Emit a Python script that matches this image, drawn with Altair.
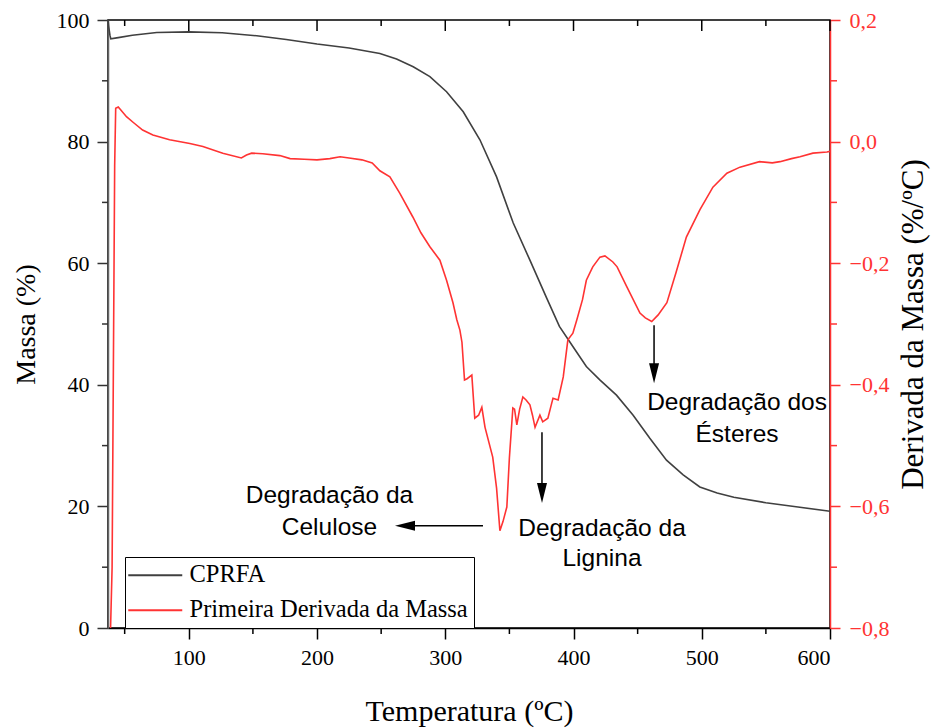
import altair as alt
import pandas as pd

# Thermogravimetric curve: temperature (ºC) and residual mass (%)
temp_mass = [37.0, 37.5, 38.5, 39.2, 45, 56, 75, 100, 126, 153, 176, 200, 225,
             249, 262, 275, 288, 301, 314, 327, 340, 353, 366, 379, 389, 399.5,
             410, 420.5, 433.5, 446.5, 459.5, 472.5, 485.5, 498.5, 512, 525,
             550, 575, 600]
mass = [100.0, 99.0, 97.5, 96.9, 97.1, 97.5, 97.95, 98.05, 97.9, 97.4, 96.8,
        96.05, 95.4, 94.5, 93.6, 92.3, 90.7, 88.2, 84.9, 80.3, 74.2, 66.6, 60.5,
        54.3, 49.6, 46.3, 43.0, 40.8, 38.3, 35.0, 31.2, 27.6, 25.2, 23.2, 22.2,
        21.5, 20.6, 19.9, 19.2]

# First derivative of the mass (%/ºC)
temp_deriv = [38.4, 40.2, 42.2, 43.0, 45, 47, 51.4, 57, 64, 72, 85, 100.8, 111,
              126.5, 141, 145, 149, 157.7, 171, 179, 190, 200, 210, 218, 225,
              235, 243, 249, 256.8, 264.6, 274.7, 281, 288, 295.8, 301, 306,
              309, 311.4, 313, 315, 317, 320.7, 323, 326, 328.5, 331, 337, 340,
              342.6, 345, 348, 350, 352.7, 354, 355.8, 358, 360.5, 363, 366,
              368, 370, 373.8, 376, 380, 384, 388, 392, 395.6, 399.5, 402.6,
              407, 410, 415, 420.6, 424.5, 430.7, 434, 441.6, 451.8, 456, 461,
              466, 472.8, 480, 488, 498.6, 508.7, 519.6, 529.8, 545, 555, 561,
              570, 576.6, 586.7, 597.6, 600]
deriv = [-0.85, -0.70, -0.04, 0.055, 0.057, 0.052, 0.041, 0.031, 0.019, 0.011,
         0.003, -0.003, -0.008, -0.019, -0.027, -0.022, -0.019, -0.020, -0.023,
         -0.028, -0.029, -0.030, -0.028, -0.025, -0.027, -0.030, -0.035,
         -0.048, -0.058, -0.085, -0.124, -0.150, -0.173, -0.195, -0.228,
         -0.265, -0.293, -0.310, -0.330, -0.392, -0.390, -0.384, -0.455,
         -0.450, -0.437, -0.470, -0.519, -0.570, -0.640, -0.625, -0.601,
         -0.520, -0.438, -0.440, -0.466, -0.440, -0.420, -0.425, -0.433,
         -0.450, -0.470, -0.450, -0.461, -0.455, -0.422, -0.425, -0.387,
         -0.326, -0.315, -0.293, -0.260, -0.228, -0.206, -0.190, -0.188,
         -0.198, -0.206, -0.239, -0.282, -0.290, -0.296, -0.285, -0.265,
         -0.215, -0.157, -0.112, -0.075, -0.052, -0.042, -0.033, -0.035,
         -0.033, -0.028, -0.025, -0.019, -0.017, -0.016]

series_names = ["CPRFA", "Primeira Derivada da Massa"]
series_colors = ["#404040", "#ff3333"]

x_major = [100, 200, 300, 400, 500, 600]
x_minor = [50, 150, 250, 350, 450, 550]
mass_major = [0, 20, 40, 60, 80, 100]
mass_minor = [10, 30, 50, 70, 90]
deriv_major = [-0.8, -0.6, -0.4, -0.2, 0.0, 0.2]
deriv_minor = [-0.7, -0.5, -0.3, -0.1, 0.1]

# Annotations: text lines (T, D) and arrows
note_text = ["Degradação da", "Celulose", "Degradação da", "Lignina",
             "Degradação dos", "Ésteres"]
note_t = [209.7, 209.7, 422.2, 422.2, 527.5, 527.5]
note_d = [-0.583, -0.636, -0.637, -0.687, -0.430, -0.483]

arrow_t = [329.4, 375.4, 462.8]
arrow_t2 = [268.6, 375.4, 462.8]
arrow_d = [-0.632, -0.478, -0.302]
arrow_d2 = [-0.632, -0.578, -0.381]

SERIF = "Liberation Serif"
SANS = "Liberation Sans"
RED = series_colors[1]

df_mass = pd.DataFrame({"T": temp_mass, "M": mass, "serie": series_names[0]})
df_deriv = pd.DataFrame({"T": temp_deriv, "D": deriv, "serie": series_names[1]})

x_scale = alt.Scale(domain=[37, 600], nice=False, zero=False)
m_scale = alt.Scale(domain=[0, 100], nice=False, zero=False)
d_scale = alt.Scale(domain=[-0.8, 0.2], nice=False, zero=False)
color = alt.Color("serie:N", scale=alt.Scale(domain=series_names, range=series_colors),
                  legend=alt.Legend(title=None))

x_axis = alt.Axis(values=x_major, title="Temperatura (ºC)", format="d",
                  domainColor="black", domainWidth=1.5, tickColor="black",
                  tickWidth=1.5, tickSize=11, labelFont=SERIF, labelFontSize=22,
                  labelColor="black", labelPadding=8, titleFont=SERIF,
                  titleFontSize=30, titleFontWeight="normal", titleColor="black",
                  titlePadding=28, grid=False)

m_axis = alt.Axis(values=mass_major, title="Massa (%)", orient="left", format="d",
                  domainColor="#666666", domainWidth=1.5, tickColor="#333333",
                  tickWidth=1.5, tickSize=11, labelFont=SERIF, labelFontSize=22,
                  labelColor="black", labelPadding=8, titleFont=SERIF,
                  titleFontSize=28, titleFontWeight="normal", titleColor="black",
                  titlePadding=16, grid=False)

d_axis = alt.Axis(values=deriv_major, title="Derivada da Massa (%/ºC)", orient="right",
                  labelExpr="replace(format(datum.value, '.1f'), '.', ',')",
                  domainColor=RED, domainWidth=1.5, tickColor=RED, tickWidth=1.5,
                  tickSize=10, labelFont=SERIF, labelFontSize=22, labelColor=RED,
                  labelPadding=9, titleFont=SERIF, titleFontSize=31,
                  titleFontWeight="normal", titleColor="black", titleAngle=270,
                  titleBaseline="top", titlePadding=10, grid=False)

# Every layer sharing a scale carries the same axis definition so that
# the shared axes merge instead of being dropped.
X = alt.X("T:Q", scale=x_scale, axis=x_axis)
YM = alt.Y("M:Q", scale=m_scale, axis=m_axis)
YD = alt.Y("D:Q", scale=d_scale, axis=d_axis)

# ---- mass side (left axis) ----
mass_line = alt.Chart(df_mass).mark_line(strokeWidth=1.6, clip=True).encode(
    x=X, y=YM, color=color,
)

left_minor = alt.Chart(pd.DataFrame({"M": mass_minor})).mark_rule(
    color="#333333", strokeWidth=1.5).encode(
    y=YM, x=alt.value(0), x2=alt.value(-6),
)

top_major = alt.Chart(pd.DataFrame({"T": x_major})).mark_rule(
    color="black", strokeWidth=1.5).encode(
    x=X, y=alt.value(0), y2=alt.value(11),
)
top_minor = alt.Chart(pd.DataFrame({"T": x_minor})).mark_rule(
    color="black", strokeWidth=1.5).encode(
    x=X, y=alt.value(0), y2=alt.value(6),
)
bottom_minor = alt.Chart(pd.DataFrame({"T": x_minor})).mark_rule(
    color="black", strokeWidth=1.5).encode(
    x=X, y=alt.value(608), y2=alt.value(614),
)

left_side = alt.layer(mass_line, left_minor, top_major, top_minor, bottom_minor)

# ---- derivative side (right axis) ----
deriv_line = alt.Chart(df_deriv).mark_line(strokeWidth=1.6, clip=True).encode(
    x=X, y=YD, color=color,
)

right_minor = alt.Chart(pd.DataFrame({"D": deriv_minor})).mark_rule(
    color=RED, strokeWidth=1.5).encode(
    y=YD, x=alt.value(722), x2=alt.value(729),
)

df_arrows = pd.DataFrame({"T": arrow_t, "T2": arrow_t2, "D": arrow_d, "D2": arrow_d2})
arrow_shafts = alt.Chart(df_arrows).mark_rule(color="black", strokeWidth=1.5).encode(
    x=X, x2="T2:Q", y=YD, y2="D2:Q",
)

head_left = alt.Chart(pd.DataFrame({"T": arrow_t2[:1], "D": arrow_d2[:1]})).mark_point(
    shape="M 1 -0.5 L 1 0.5 L -1 0 Z", filled=True, color="black", opacity=1,
    size=400).encode(x=X, y=YD)
head_down = alt.Chart(pd.DataFrame({"T": arrow_t2[1:], "D": arrow_d2[1:]})).mark_point(
    shape="M -0.5 -1 L 0.5 -1 L 0 1 Z", filled=True, color="black", opacity=1,
    size=400).encode(x=X, y=YD)

notes = alt.Chart(pd.DataFrame({"T": note_t, "D": note_d, "txt": note_text})).mark_text(
    font=SANS, fontSize=24.5, color="black", align="center", baseline="middle").encode(
    x=X, y=YD, text="txt:N",
)

right_side = alt.layer(deriv_line, right_minor, arrow_shafts, head_left, head_down, notes)

chart = alt.layer(left_side, right_side).resolve_scale(
    y="independent"
).properties(
    width=722, height=608,
    padding={"left": 108, "top": 20, "right": 104, "bottom": 100},
    autosize=alt.AutoSizeParams(type="none"),
    background="white",
).configure_view(
    stroke="black", strokeWidth=1.5
).configure_legend(
    orient="none", legendX=17, legendY=537,
    symbolType="M -2.7 0 L 2.7 0", symbolSize=400, symbolStrokeWidth=1.8,
    symbolOffset=12, labelOffset=22,
    labelFont=SERIF, labelFontSize=24.5, labelColor="black", labelLimit=400,
    padding=6, rowPadding=10, strokeColor="black", fillColor="white",
)

chart.save("out.html", embed_options={"renderer": "svg", "actions": False})
